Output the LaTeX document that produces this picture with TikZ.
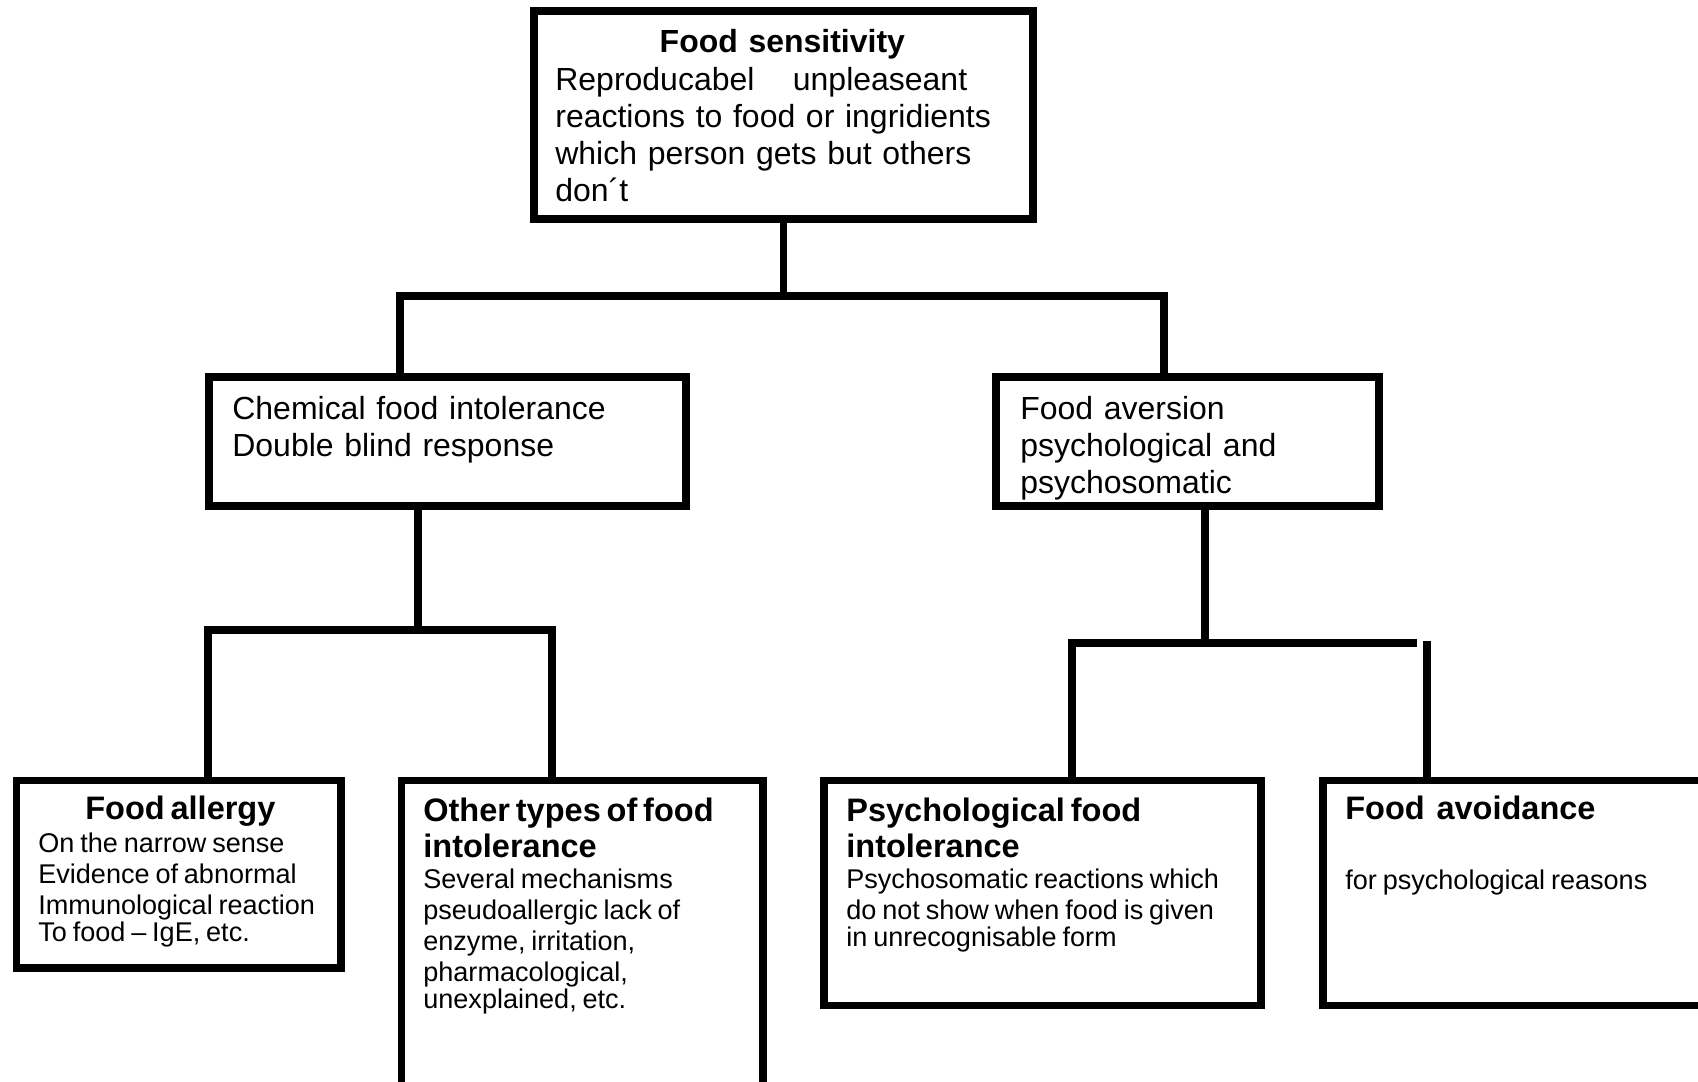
\documentclass[tikz,border=0pt]{standalone}
\usepackage{fontspec}
\setmainfont{Liberation Sans}
\usepackage{tikz}
\usetikzlibrary{positioning, calc}
\newcommand{\headsize}{\fontsize{18.5}{20.2}\selectfont}
\newcommand{\bodysize}{\fontsize{15.4}{17.6}\selectfont}
\tikzset{
  box/.style 2 args={rectangle, draw=black, line width=0.15cm,
    minimum width=#1cm, minimum height=#2cm, inner sep=0pt,
    outer sep=0pt, anchor=north west},
  boxtext/.style={anchor=base west, inner sep=0pt, align=left,
    text width=#1cm},
  midtext/.style={font=\fontsize{18.2}{21}\selectfont},
  link/.style={draw=black, line width=0.15cm}
}

\begin{document}
\begin{tikzpicture}
  \useasboundingbox (0,0) rectangle (33.96,21.64);
  \fill[white] (0,0) rectangle (33.96,21.64);

  \node[box={9.98}{4.16}] (sens) at (10.68,21.42) {};
  \node[boxtext=9.08, font=\fontsize{18.2}{21.1}\selectfont] (senstxt) at (11.10,20.58)
    {{\centering\bfseries Food sensitivity\par}
     Reproducabel\hspace{0.77cm}unpleaseant\\
     reactions to food or ingridients\\
     which person gets but others\\
     don´t};

  \node[box={9.54}{2.58}] (chem) at (4.18,14.10) {};
  \node[boxtext=9.0, midtext] (chemtxt) at (4.64,13.25)
    {Chemical food intolerance\\ Double blind response};

  \node[box={7.66}{2.58}] (aver) at (19.92,14.10) {};
  \node[boxtext=7.0, midtext] (avertxt) at (20.40,13.25)
    {Food aversion\\ psychological and\\ psychosomatic};

  \node[box={6.49}{3.75}] (allergy) at (0.33,6.03) {};
  \node[boxtext=6.2] (allergytxt) at (0.76,5.24)
    {\makebox[5.68cm][c]{\headsize\bfseries Food allergy}\par\vspace{0.03cm}
     \bodysize On the narrow sense\\ Evidence of abnormal\\
     Immunological reaction\\ To food -- IgE, etc.};

  \node[box={7.23}{6.90}] (other) at (8.03,6.03) {};
  \node[boxtext=6.7] (othertxt) at (8.46,5.20)
    {{\headsize\bfseries Other types of food\\ intolerance\par}
     \bodysize Several mechanisms\\ pseudoallergic lack of\\
     enzyme, irritation,\\ pharmacological,\\ unexplained, etc.};

  \node[box={8.74}{4.50}] (psych) at (16.48,6.03) {};
  \node[boxtext=8.0] (psychtxt) at (16.92,5.20)
    {{\headsize\bfseries Psychological food\\ intolerance\par}
     \bodysize Psychosomatic reactions which\\ do not show when food is given\\
     in unrecognisable form};

  \node[box={8.00}{4.50}] (avoid) at (26.46,6.03) {};
  \node[boxtext=7.0] (avoidtxt) at (26.90,5.24)
    {{\headsize\bfseries Food\ \ avoidance\par}\vspace{0.96cm}
     \bodysize for psychological reasons};

  % connectors
  \coordinate (j1l) at (8.00,15.72);
  \coordinate (j1r) at (23.28,15.72);
  \draw[link] (sens.south) -- (sens.south |- j1l);
  \draw[link] (j1l |- chem.north) -- (j1l) -- (j1r) -- (j1r |- aver.north);

  \coordinate (j2) at (8.36,9.04);
  \coordinate (j2l) at (4.16,9.04);
  \coordinate (j2r) at (11.04,9.04);
  \draw[link] (j2 |- chem.south) -- (j2);
  \draw[link] (j2l |- allergy.north) -- (j2l) -- (j2r) -- (j2r |- other.north);

  \coordinate (j3) at (24.10,8.78);
  \coordinate (j3l) at (21.44,8.78);
  \coordinate (j3r) at (28.34,8.78);
  \coordinate (j3d) at (28.54,8.82);
  \draw[link] (j3 |- aver.south) -- (j3);
  \draw[link] (j3l |- psych.north) -- (j3l) -- (j3r);
  \draw[link] (j3d) -- (j3d |- avoid.north);
\end{tikzpicture}
\end{document}
